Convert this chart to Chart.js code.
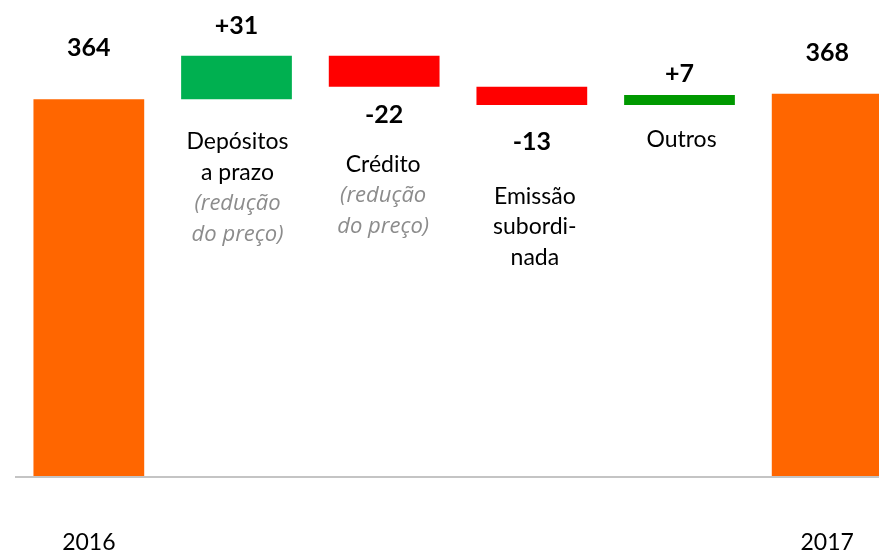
<!DOCTYPE html>
<html>
<head>
<meta charset="utf-8">
<script src="https://cdn.jsdelivr.net/npm/chart.js@4/dist/chart.umd.min.js"></script>
<style>
  html, body { margin: 0; padding: 0; background: #fff; overflow: hidden; }
  #wrap { position: relative; width: 901px; height: 553px; }
</style>
</head>
<body>
<div id="wrap"><canvas id="waterfall"></canvas></div>
<script>
// Waterfall: 2016 -> 2017
const years = ['2016', '', '', '', '', '2017'];
const steps = [364, 31, -22, -13, 7, 368];
const isTotal = [true, false, false, false, false, true];
const valueText = ['364', '+31', '-22', '-13', '+7', '368'];
const catLines = [[], ['Depósitos', 'a prazo'], ['Crédito'], ['Emissão', 'subordi-', 'nada'], ['Outros'], []];
const noteLines = [[], ['(redução', 'do preço)'], ['(redução', 'do preço)'], [], [], []];

const AXIS_MIN = 96;
const AXIS_MAX = 434.5;

const COLORS = {
  total: '#ff6600',
  up: '#00b050',
  upSmall: '#009900',
  down: '#ff0000',
  text: '#000',
  note: '#8c8c8c',
  axis: '#c4c4c4',
};
const barColors = [COLORS.total, COLORS.up, COLORS.down, COLORS.down, COLORS.upSmall, COLORS.total];

// label placement (px) relative to the bar edge
const valueDy = [-51, -30, 28, 37, -21, -41];
const catDy = [0, 50, 85, 99, 42, 0];
const catDx = [0, 1, -1, 3, 2, 0];
const LINE_H = 30.5;

// floating bars built from the steps
let running = 0;
const bars = steps.map((v, i) => {
  if (isTotal[i]) { running = v; return [AXIS_MIN, v]; }
  const start = running;
  running += v;
  return [Math.min(start, running), Math.max(start, running)];
});

const labelsPlugin = {
  id: 'waterfallLabels',
  afterDatasetsDraw(chart) {
    const { ctx, chartArea } = chart;
    const meta = chart.getDatasetMeta(0);
    ctx.save();
    // baseline
    ctx.strokeStyle = COLORS.axis;
    ctx.lineWidth = 2;
    ctx.beginPath();
    ctx.moveTo(chartArea.left, chartArea.bottom);
    ctx.lineTo(chartArea.right, chartArea.bottom);
    ctx.stroke();

    ctx.textAlign = 'center';
    meta.data.forEach((el, i) => {
      const top = Math.min(el.y, el.base);
      const bottom = Math.max(el.y, el.base);
      const goesDown = steps[i] < 0;

      ctx.font = "bold 25px Lato, sans-serif";
      ctx.fillStyle = COLORS.text;
      ctx.textBaseline = 'middle';
      ctx.fillText(valueText[i], el.x, (goesDown ? bottom : top) + valueDy[i]);

      ctx.textBaseline = 'alphabetic';
      const cx = el.x + catDx[i];
      let y = bottom + catDy[i];
      ctx.font = "23px Lato, sans-serif";
      catLines[i].forEach(line => { ctx.fillText(line, cx, y); y += LINE_H; });
      ctx.font = "italic 22px 'Open Sans', sans-serif";
      ctx.fillStyle = COLORS.note;
      noteLines[i].forEach(line => { ctx.fillText(line, cx, y); y += LINE_H; });

      if (years[i]) {
        ctx.font = "23px Lato, sans-serif";
        ctx.fillStyle = COLORS.text;
        ctx.fillText(years[i], el.x, 550);
      }
    });
    ctx.restore();
  },
};

new Chart(document.getElementById('waterfall'), {
  type: 'bar',
  data: {
    labels: years,
    datasets: [{
      data: bars,
      backgroundColor: barColors,
      borderWidth: 0,
      borderSkipped: false,
      categoryPercentage: 1,
      barPercentage: 0.75,
    }],
  },
  options: {
    responsive: true,
    maintainAspectRatio: false,
    animation: false,
    layout: { padding: { left: 15, right: 0, top: 0, bottom: 76 } },
    plugins: { legend: { display: false }, tooltip: { enabled: false } },
    scales: {
      x: { display: false },
      y: { display: false, min: AXIS_MIN, max: AXIS_MAX },
    },
  },
  plugins: [labelsPlugin],
});
</script>
</body>
</html>
